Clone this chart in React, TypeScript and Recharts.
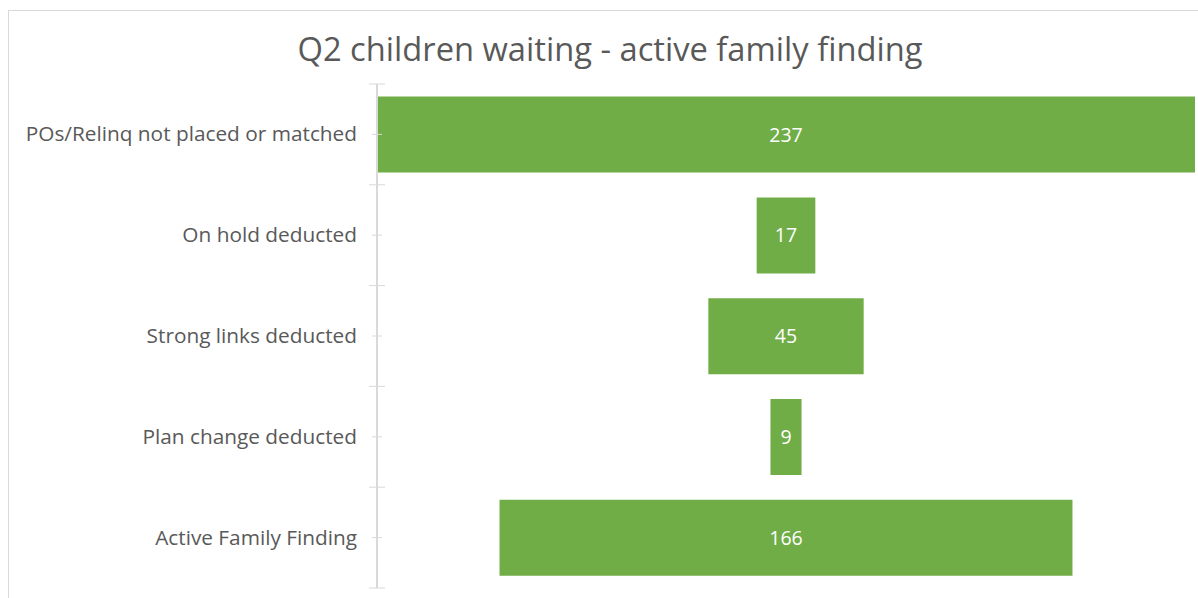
import React from 'react';
import { BarChart, Bar, XAxis, YAxis, LabelList } from 'recharts';

const categories = [
  'POs/Relinq not placed or matched',
  'On hold deducted',
  'Strong links deducted',
  'Plan change deducted',
  'Active Family Finding'
];
const counts = [237, 17, 45, 9, 166];
const maxCount = 237;

const data = categories.map((name, i) => ({
  name,
  offset: (maxCount - counts[i]) / 2,
  value: counts[i]
}));

const FONT = '"Open Sans", Lato, sans-serif';
const AXIS_X = 368;
const PLOT_TOP = 73;
const PLOT_BOTTOM = 577;
const BAND = (PLOT_BOTTOM - PLOT_TOP) / categories.length;

function CategoryTick(props: any) {
  const { y, payload, index } = props;
  const last = index === categories.length - 1;
  return (
    <g>
      <line x1={AXIS_X - 5} x2={AXIS_X + 5} y1={y} y2={y} stroke="#d9d9d9" />
      <line x1={AXIS_X - 8} x2={AXIS_X + 8} y1={y - BAND / 2} y2={y - BAND / 2} stroke="#d9d9d9" />
      {last && (
        <line x1={AXIS_X - 8} x2={AXIS_X + 8} y1={y + BAND / 2} y2={y + BAND / 2} stroke="#d9d9d9" />
      )}
      <text x={AXIS_X - 20} y={y} dy={7} textAnchor="end" fill="#595959" fontSize={20.8} fontFamily={FONT}>
        {payload.value}
      </text>
    </g>
  );
}

export default function App() {
  return (
    <div
      style={{
        position: 'fixed',
        top: 10,
        left: 8,
        width: 1200,
        height: 600,
        border: '1px solid #d9d9d9',
        boxSizing: 'border-box',
        background: '#fff'
      }}
    >
      <div
        style={{
          position: 'absolute',
          top: 19,
          left: 2,
          width: '100%',
          textAlign: 'center',
          fontFamily: FONT,
          fontSize: 32.7,
          lineHeight: '38px',
          color: '#595959'
        }}
      >
        Q2 children waiting - active family finding
      </div>
      <div style={{ position: 'absolute', left: 0, top: 0 }}>
        <BarChart
          width={1195}
          height={590}
          data={data}
          layout="vertical"
          barCategoryGap="12.5%"
          margin={{ top: PLOT_TOP, right: 9, bottom: 590 - PLOT_BOTTOM, left: 0 }}
        >
          <XAxis type="number" hide domain={[0, maxCount]} />
          <YAxis
            type="category"
            dataKey="name"
            width={AXIS_X}
            axisLine={{ stroke: '#d9d9d9', strokeWidth: 2 }}
            tickLine={false}
            tick={<CategoryTick />}
            interval={0}
          />
          <Bar dataKey="offset" stackId="f" fill="transparent" isAnimationActive={false} />
          <Bar dataKey="value" stackId="f" fill="#70ad47" isAnimationActive={false}>
            <LabelList dataKey="value" position="center" fill="#ffffff" fontSize={19.5} fontFamily={FONT} />
          </Bar>
        </BarChart>
      </div>
    </div>
  );
}
